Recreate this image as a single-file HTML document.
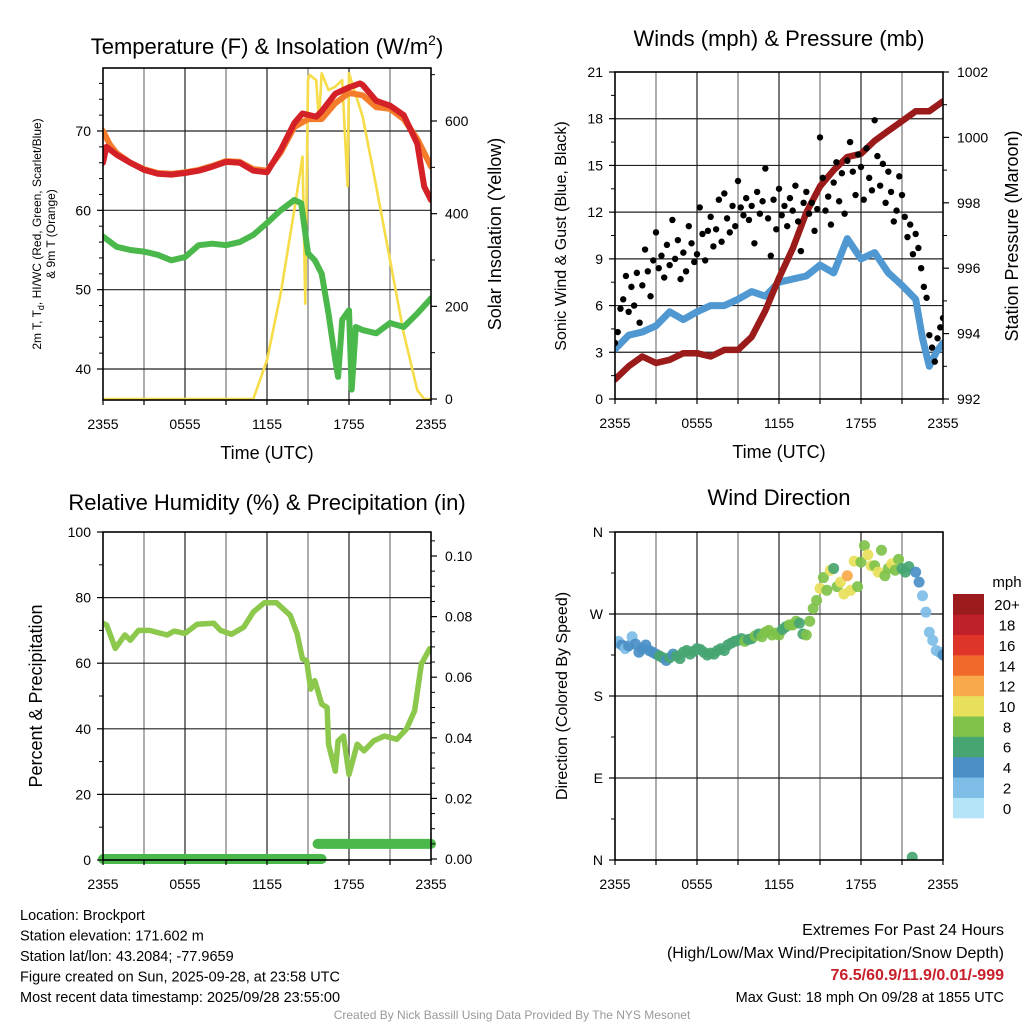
<!DOCTYPE html>
<html><head><meta charset="utf-8">
<style>
html,body{margin:0;padding:0;background:#fff;}
svg{display:block;font-family:"Liberation Sans",Arial,sans-serif;}
</style></head>
<body>
<svg id="c" width="1024" height="1024" viewBox="0 0 1024 1024"></svg>
<script>
// ---------- DATA ----------
const tempT = [0,0.25,1,2,3,4,5,6,7,8,9,10,11,12,13,14,14.6,15.6,16,17,18,18.8,19,20,21,22,23,23.5,24];
const tempV = [66.0,68,67,66,65.1,64.6,64.5,64.7,65.0,65.5,66.1,66.0,65.0,64.8,67.6,71,72.2,71.8,72.5,74.7,75.5,76,75.8,73.8,73.2,72,68.4,63,61.3];
const t9T = [0,0.5,1,2,3,4,5,6,7,8,9,10,11,12,13,14,15,16,17,18,19,20,21,22,23,24];
const t9V = [70,68.3,67.2,66,65.2,64.7,64.6,64.8,65.1,65.6,66.2,66.1,65.2,65.0,67.3,70.5,71.5,71.5,73.5,74.8,74.5,73,72.8,71.5,69,65.5];
const dewT = [0,1,2,3,4,5,6,7,8,9,10,11,12,13,14,14.5,15,15.5,16,16.5,17,17.2,17.5,18,18.2,18.5,19,20,21,22,23,24];
const dewV = [56.7,55.4,55,54.8,54.4,53.7,54.1,55.6,55.8,55.6,56,56.9,58.4,60,61.3,60.9,54.6,53.7,52,47,41.1,39,46.2,47.4,37.4,45.3,44.9,44.5,45.8,45.3,47.0,48.9];
const solT = [0,11,12,13,14,14.6,14.8,15,15.1,15.6,15.8,16,16.5,17,17.5,17.9,18,19,20,21,22,23,23.5,24];
const solV = [0,0,84,228,408,523,206,688,700,688,600,703,667,674,688,459,703,609,458,300,142,19,0,0];

const windT = [0,1,2,3,4,5,6,7,8,9,10,11,12,13,14,15,16,17,18,19,20,21,22,22.5,23,23.5,24];
const windV = [3.2,4.1,4.3,4.7,5.6,5.1,5.6,6,6,6.4,6.9,6.6,7.5,7.7,7.9,8.6,8.1,10.3,9,9.4,8.1,7.3,6.4,3.9,2.1,3,3.6];
const presT = [0,1,2,3,4,5,6,7,8,9,10,11,12,13,14,15,16,17,18,19,20,21,22,23,24];
const presV = [992.6,993.0,993.3,993.1,993.2,993.4,993.4,993.3,993.5,993.5,993.9,994.7,995.7,996.6,997.7,998.5,999.0,999.4,999.5,999.9,1000.2,1000.5,1000.8,1000.8,1001.1];
const gustV = [3.6,4.3,5.8,6.4,7.9, 5.6,7.2,6.0,8.1,4.9, 7.3,9.6,8.2,6.6,8.9, 10.7,8.4,9.2,7.8,9.9,
 8.6,11.5,9.0,10.2,7.7, 9.4,8.2,11.1,10.0,8.8, 9.3,12.3,10.6,8.9,10.8, 11.7,9.8,10.9,12.8,10.1,
 13.2,11.6,10.7,12.4,11.1, 14.0,12.3,11.8,12.9,11.5, 12.4,10.0,13.3,11.9,12.7, 14.8,11.6,9.2,12.8,10.9,
 13.5,11.8,12.4,11.1,12.9, 12.1,13.7,11.4,9.5,12.6, 13.3,11.9,12.6,10.8,12.2, 16.8,14.2,12.1,13.0,11.2,
 13.9,15.2,12.7,14.5,11.9, 15.3,16.5,14.6,13.1,15.7, 14.9,12.8,16.1,14.2,13.4, 17.9,15.6,13.7,15.1,12.6,
 14.6,13.3,11.4,12.1,14.3, 13.1,11.7,10.4,11.2,9.3, 10.6,9.7,8.4,7.2,6.5, 4.1,3.3,2.4,3.9,4.6, 5.2];

const rhT = [0,0.27,0.9,1.6,2.0,2.6,3.4,4.7,5.2,6.0,6.9,8.1,8.6,9.4,10.3,11,11.8,12.7,13.7,14.2,14.6,14.9,15.2,15.5,16.0,16.4,16.5,17.0,17.2,17.6,18.0,18.6,19.1,19.8,20.6,21.5,22.2,22.8,23.3,23.9];
const rhV = [72.2,71.6,64.5,68.6,67,70,70,68.6,69.8,69.1,71.9,72.2,70,68.8,71,75.6,78.4,78.4,74.6,69,61.3,60.8,52.1,54.7,47.5,46.5,35.3,27.1,36.3,37.8,26.1,35.3,33.3,36.3,37.8,36.8,39.9,45.5,59.8,64.4];
const precipV = [0,0,0,0,0,0,0,0,0,0,0,0,0,0,0,0,0.005,0.005,0.005,0.005,0.005,0.005,0.005,0.005,0.005];

const dirV = [238,240,236,232, 235,245,237,228, 232,236,230,228, 226,224,222,219, 222,226,224,221, 228,230,226,229,
 232,231,228,225, 227,226,230,232, 230,236,238,240, 241,243,240,242, 243,246,248,245, 250,252,247,249,
 247,253,256,258, 258,262,260,248, 247,262,276,285, 298,310,296,318, 320,300,305,292, 312,296,328,300,
 327,345,335,323, 323,316,340,312, 320,325,318,330, 320,316,322,3, 316,305,290,272, 250,241,230,228, 225];
const dirSpd = [3.5,3,4,3.8, 4.2,3.5,4.4,4.6, 4.3,4.8,5.0,4.5, 5.5,6.1,6.2,5.8, 6.3,5.4,6.5,6.2, 6.1,6.4,6.6,6.3,
 6.2,6.5,6.4,6.7, 6.5,6.6,6.8,6.9, 7.0,6.6,6.8,7.2, 7.9,6.7,8.2,6.9, 7.1,8.3,6.8,8.4, 8.5,8.8,8.4,8.9,
 8.6,6.9,6.7,8.4, 8.5,8.3,6.7,6.8, 8.6,8.4,8.8,9.9, 10.2,8.5,8.7,10.3, 7.9,9.1,10.5,10.6, 12.4,10.1,11.3,8.7,
 8.3,8.9,10.4,10.8, 8.5,10.5,8.6,9.1, 8.4,10.2,8.6,8.8, 6.9,7.5,6.7,6.5, 5.5,4.5,3.5,2.6, 2.8,3.2,2.5,2.9, 4.4];

const xTickLabels = ["2355","0555","1155","1755","2355"];
const spdLabels = ["0","2","4","6","8","10","12","14","16","18","20+"];
const spdColors = ["#b4e2f7","#7ebde6","#4a8fc6","#47a572","#7ec24a","#e8e05a","#f8a94a","#f26a2b","#df3529","#c0202a","#9b1b1e"];

// ---------- HELPERS ----------
const NS="http://www.w3.org/2000/svg";
const svg=document.getElementById('c');
function mk(tag,attrs,parent){const e=document.createElementNS(NS,tag);for(const k in attrs)e.setAttribute(k,attrs[k]);(parent||svg).appendChild(e);return e;}
function txt(s,x,y,size,anchor,parent,extra){const e=mk('text',Object.assign({x:x,y:y,'font-size':size,'text-anchor':anchor||'middle',fill:'#000'},extra||{}),parent);e.textContent=s;return e;}
function lin(d0,d1,r0,r1){return v=>r0+(v-d0)/(d1-d0)*(r1-r0);}

function panel(id,L,T,R,B){
  const g=mk('g',{});
  
  
  const cp=mk('clipPath',{id:id+'-clip'},g);
  mk('rect',{x:L,y:T,width:R-L,height:B-T},cp);
  return g;
}
function grid(g,L,T,R,B,yLines){
  const gg=mk('g',{},g);
  
  
  for(let i=1;i<8;i++){const x=L+(R-L)*i/8;mk('line',{x1:x,y1:T,x2:x,y2:B,stroke:i%2?'#777':'#222','stroke-width':1.2},gg);}
  yLines.forEach((y,i)=>mk('line',{x1:L,y1:y,x2:R,y2:y,stroke:'#222','stroke-width':1.2},gg));
}
function frame(g,L,T,R,B){
  const f=mk('rect',{x:L,y:T,width:R-L,height:B-T,fill:'none',stroke:'#000','stroke-width':1.6},g);
  
  
}
function xAxis(g,L,R,B,withTitle){
  const xs=lin(0,24,L,R);
  for(let i=0;i<=24;i+=3){const x=xs(i);mk('line',{x1:x,y1:B,x2:x,y2:B+5,stroke:'#000','stroke-width':1.2},g);}
  xTickLabels.forEach((s,i)=>{const t=txt(s,xs(i*6),B+29,14,'middle',g);
    
    });
  if(withTitle){const t=txt('Time (UTC)',(L+R)/2,B+59,18,'middle',g);
    
    }
}
function yTicks(g,x,ys,labels,side,minors){
  ys.forEach((y,i)=>{
    mk('line',{x1:x,y1:y,x2:x+(side<0?-6:6),y2:y,stroke:'#000','stroke-width':1.2},g);
    const t=txt(labels[i],side<0?x-12:x+14,y+5,14,side<0?'end':'start',g);
    
    
  });
  (minors||[]).forEach(y=>mk('line',{x1:x,y1:y,x2:x+(side<0?-4:4),y2:y,stroke:'#000','stroke-width':1},g));
}
function path(g,ts,vs,xs,ys,color,w,name){
  let d='';ts.forEach((t,i)=>{d+=(i?'L':'M')+xs(t).toFixed(1)+','+ys(vs[i]).toFixed(1);});
  const p=mk('path',{d:d,fill:'none',stroke:color,'stroke-width':w,'stroke-linejoin':'round','stroke-linecap':'round'},g);
  
  
  return p;
}
function rotTitle(g,s,x,y,size){const t=txt(s,x,y,size,'middle',g,{transform:'rotate(-90 '+x+' '+y+')'});return t;}

// ---------- PANEL 1: Temperature ----------
(function(){
  const L=103,T=68,R=431,B=400;
  const g=panel('temperature-panel',L,T,R,B);
  const xs=lin(0,24,L,R), ys=lin(40,70,369,131), ysr=lin(0,600,399,121);
  grid(g,L,T,R,B,[ys(40),ys(50),ys(60),ys(70)]);
  const d=mk('g',{'clip-path':'url(#temperature-panel-clip)'},g);
  path(d,solT,solV,xs,ysr,'#f5dc48',2.6,'insolation-line');
  path(d,dewT,dewV,xs,ys,'#4ab84a',6,'dewpoint-line');
  path(d,t9T,t9V,xs,ys,'#f47c2a',6,'temp-9m-line');
  path(d,tempT,tempV,xs,ys,'#d42127',6,'temp-2m-line');
  frame(g,L,T,R,B);
  yTicks(g,L,[40,50,60,70].map(ys),['40','50','60','70'],-1,[42,44,46,48,52,54,56,58,62,64,66,68,72,74,76].map(ys));
  yTicks(g,R,[0,200,400,600].map(ysr),['0','200','400','600'],1,[100,300,500,700].map(ysr));
  xAxis(g,L,R,B,true);
  const tt=txt('',267,54,22,'middle',g);
  tt.innerHTML='Temperature (F) &amp; Insolation (W/m<tspan dy="-9" font-size="14">2</tspan><tspan dy="9">)</tspan>';
  
  
  const yl=mk('text',{x:0,y:0,'font-size':12,'text-anchor':'middle',transform:'translate(41,234) rotate(-90)'},g);
  yl.innerHTML='<tspan x="0" dy="0">2m T, T<tspan font-size="9" dy="3">d</tspan><tspan dy="-3">, HI/WC (Red, Green, Scarlet/Blue)</tspan></tspan><tspan x="0" dy="14">&amp; 9m T (Orange)</tspan>';
  
  
  const yr=rotTitle(g,'Solar Insolation (Yellow)',501,234,18);
  
  
})();

// ---------- PANEL 2: Winds ----------
(function(){
  const L=615,T=72,R=943,B=399;
  const g=panel('winds-panel',L,T,R,B);
  const xs=lin(0,24,L,R), ys=lin(0,21,B,T), ysr=lin(992,1002,B,T);
  grid(g,L,T,R,B,[3,6,9,12,15,18].map(ys));
  const d=mk('g',{'clip-path':'url(#winds-panel-clip)'},g);
  path(d,windT,windV,xs,ys,'#4f98d2',7,'wind-speed-line');
  path(d,presT,presV,xs,ysr,'#9b1a1a',6.5,'pressure-line');
  gustV.forEach((v,i)=>{const c=mk('circle',{cx:xs(i*0.2),cy:ys(v),r:3.2,fill:'#000'},d);
    
    });
  frame(g,L,T,R,B);
  yTicks(g,L,[0,3,6,9,12,15,18,21].map(ys),['0','3','6','9','12','15','18','21'],-1,[1.5,4.5,7.5,10.5,13.5,16.5,19.5].map(ys));
  const pl=[992,994,996,998,1000,1002];
  yTicks(g,R,pl.map(ysr),pl.map(String),1,[993,995,997,999,1001].map(ysr));
  xAxis(g,L,R,B,true);
  const tt=txt('Winds (mph) & Pressure (mb)',779,46,22,'middle',g);
  
  
  const yl=rotTitle(g,'Sonic Wind & Gust (Blue, Black)',566,236,16);
  
  
  const yr=rotTitle(g,'Station Pressure (Maroon)',1018,236,18);
  
  
})();

// ---------- PANEL 3: RH ----------
(function(){
  const L=103,T=532,R=431,B=860;
  const g=panel('humidity-panel',L,T,R,B);
  const xs=lin(0,24,L,R), ys=lin(0,100,B,T), ysr=lin(0,0.1,859,556);
  grid(g,L,T,R,B,[20,40,60,80].map(ys));
  const d=mk('g',{'clip-path':'url(#humidity-panel-clip)'},g);
  path(d,rhT,rhV,xs,ys,'#8cc84b',5.5,'humidity-line');
  let start=0;
  for(let i=1;i<=precipV.length;i++){
    if(i===precipV.length||precipV[i]!==precipV[start]){
      const x0=xs(start===0?0:start-0.3), x1=xs(i===precipV.length?24:i);
      const p=mk('line',{x1:x0,y1:ysr(precipV[start]),x2:x1,y2:ysr(precipV[start]),stroke:'#4ab84a','stroke-width':10,'stroke-linecap':'round'},g);
      
      
      start=i;
    }
  }
  frame(g,L,T,R,B);
  yTicks(g,L,[0,20,40,60,80,100].map(ys),['0','20','40','60','80','100'],-1,[10,30,50,70,90].map(ys));
  const pl=[0,0.02,0.04,0.06,0.08,0.10];
  yTicks(g,R,pl.map(ysr),pl.map(v=>v.toFixed(2)),1,[0.005,0.01,0.015,0.025,0.03,0.035,0.045,0.05,0.055,0.065,0.07,0.075,0.085,0.09,0.095,0.105].map(ysr));
  xAxis(g,L,R,B,false);
  const tt=txt('Relative Humidity (%) & Precipitation (in)',267,510,22,'middle',g);
  
  
  const yl=rotTitle(g,'Percent & Precipitation',42,696,18);
  
  
})();

// ---------- PANEL 4: Wind direction ----------
(function(){
  const L=615,T=532,R=943,B=860;
  const g=panel('wind-direction-panel',L,T,R,B);
  const xs=lin(0,24,L,R), ys=lin(0,360,B,T);
  grid(g,L,T,R,B,[90,180,270].map(ys));
  const d=mk('g',{'clip-path':'url(#wind-direction-panel-clip)'},g);
  dirV.forEach((v,i)=>{
    const bin=Math.min(10,Math.max(0,Math.floor(dirSpd[i]/2)));
    const c=mk('circle',{cx:xs(i*0.25),cy:ys(v),r:5.5,fill:spdColors[bin],'fill-opacity':0.92},d);
    
    
  });
  frame(g,L,T,R,B);
  yTicks(g,L,[0,90,180,270,360].map(ys),['N','E','S','W','N'],-1,[45,135,225,315].map(ys));
  xAxis(g,L,R,B,false);
  const tt=txt('Wind Direction',779,505,22,'middle',g);
  
  
  const yl=rotTitle(g,'Direction (Colored By Speed)',567,696,16);
  
  
  const cb=mk('g',{},g);
  
  
  const h=224/11;
  spdColors.forEach((c,i)=>{
    const y=818-(i+1)*h;
    mk('rect',{x:953,y:y,width:31,height:h+0.3,fill:c},cb);
    const t=txt(spdLabels[i],1007,y+h/2+6,15,'middle',cb);
    
    
  });
  const u=txt('mph',1007,587,15,'middle',cb);
  
  
})();

// ---------- FOOTER TEXT ----------
(function(){
  const g=mk('g',{});
  
  
  ['Location: Brockport','Station elevation: 171.602 m','Station lat/lon: 43.2084; -77.9659','Figure created on Sun, 2025-09-28, at 23:58 UTC','Most recent data timestamp: 2025/09/28 23:55:00']
    .forEach((s,i)=>txt(s,20,920+i*20.5,14.5,'start',g));
  const r=mk('g',{});
  
  
  txt('Extremes For Past 24 Hours',1004,935,16,'end',r);
  txt('(High/Low/Max Wind/Precipitation/Snow Depth)',1004,958,16,'end',r);
  txt('76.5/60.9/11.9/0.01/-999',1004,980,16,'end',r,{fill:'#c8202a','font-weight':'bold'});
  txt('Max Gust: 18 mph On 09/28 at 1855 UTC',1004,1002,14.5,'end',r);
  const f=txt('Created By Nick Bassill Using Data Provided By The NYS Mesonet',512,1019,12,'middle',svg,{fill:'#999'});
  
  
})();
</script>
</body></html>
